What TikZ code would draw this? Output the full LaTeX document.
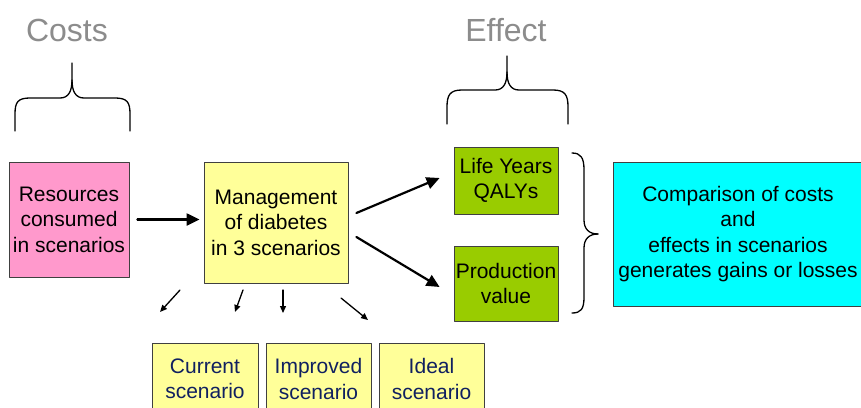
\documentclass[tikz,border=0pt]{standalone}
\usepackage{fontspec}
\setmainfont{Liberation Sans}
\usetikzlibrary{arrows.meta}

\definecolor{pinkbox}{HTML}{FF99CC}
\definecolor{yellowbox}{HTML}{FFFF99}
\definecolor{greenbox}{HTML}{99CC00}
\definecolor{cyanbox}{HTML}{00FFFF}
\definecolor{headgray}{HTML}{8C8C8C}
\definecolor{scenblue}{RGB}{16,32,96}

\begin{document}
\begin{tikzpicture}[line cap=round,line join=round,x=1pt,y=-1pt,
    box/.style={draw=black!75, line width=0.8pt, inner sep=0pt, align=center,
        font=\fontsize{21}{25.5}\selectfont},
    head/.style={text=headgray, font=\fontsize{32}{36}\selectfont},
    flow/.style={line width=2.2pt, -{Triangle[length=13pt,width=12pt]}},
    split/.style={line width=1.3pt, -{Triangle[length=7pt,width=6pt]}},
    brace/.style={line width=1.3pt}]
        \useasboundingbox (0,0) rectangle (861,407);
        \clip (0,0) rectangle (861,407);

        \node[head] (costs) at (67,30) {Costs};
        \node[head] (effect) at (506,30) {Effect};

        \node[box, fill=pinkbox, minimum width=120pt, minimum height=115pt] (res) at (69,219.5) {Resources\\consumed\\in scenarios};
        \node[box, fill=yellowbox, minimum width=144pt, minimum height=121pt] (mgmt) at (276,222.5) {Management\\of diabetes\\in 3 scenarios};
        \node[box, fill=greenbox, minimum width=104pt, minimum height=67pt] (life) at (506,180.5) {Life Years\\QALYs};
        \node[box, fill=greenbox, minimum width=104pt, minimum height=75pt] (prod) at (506,283.5) {Production\\value};
        \node[box, fill=cyanbox, minimum width=250pt, minimum height=144pt] (comp) at (738,234) {Comparison of costs\\and\\effects in scenarios\\generates gains or losses};

        \node[box, fill=yellowbox, text=scenblue, minimum width=106pt, minimum height=72pt] (cur) at (205,379) {Current\\scenario};
        \node[box, fill=yellowbox, text=scenblue, minimum width=105pt, minimum height=72pt] (imp) at (318.5,379) {Improved\\scenario};
        \node[box, fill=yellowbox, text=scenblue, minimum width=105pt, minimum height=72pt] (ideal) at (431.5,379) {Ideal\\scenario};

        \draw[flow] ([xshift=8pt]res.east) -- ([xshift=-4pt]mgmt.west |- res.east);
        \draw[flow] ([shift={(8,-9.5)}]mgmt.east) -- ([shift={(-14,-2.5)}]life.west);
        \draw[flow] ([shift={(8,14.5)}]mgmt.east) -- ([shift={(-14,3.5)}]prod.west);

        \coordinate (t1) at (180,290); \coordinate (h1) at (160,312);
        \coordinate (t2) at (243,290); \coordinate (h2) at (235,312);
        \coordinate (t3) at (283,290); \coordinate (h3) at (283,313);
        \coordinate (t4) at (341,298); \coordinate (h4) at (368,320);
        \draw[split] (t1) -- (h1);
        \draw[split] (t2) -- (h2);
        \draw[split] (t3) -- (h3);
        \draw[split] (t4) -- (h4);

        % braces
        \draw[brace] (15,131) -- (15,114) .. controls (15,102) and (18,98) .. (30,98) -- (60,98) .. controls (68,98) and (72,92) .. (72,80) -- (72,63);
        \draw[brace] (72,80) .. controls (72,92) and (76,98) .. (84,98) -- (115,98) .. controls (127,98) and (130,102) .. (130,114) -- (130,131);
        \draw[brace] (447,124) -- (447,107) .. controls (447,95) and (450,90) .. (462,90) -- (495,90) .. controls (503,90) and (507,84) .. (507,72) -- (507,56);
        \draw[brace] (507,72) .. controls (507,84) and (511,90) .. (519,90) -- (553,90) .. controls (565,90) and (568,95) .. (568,107) -- (568,124);
        \draw[brace] (572,153) .. controls (581,153) and (584,158) .. (584,170) -- (584,220) .. controls (584,229) and (589,234) .. (598,234);
        \draw[brace] (598,234) .. controls (589,234) and (584,239) .. (584,248) -- (584,297) .. controls (584,309) and (581,313) .. (572,313);
\end{tikzpicture}
\end{document}
